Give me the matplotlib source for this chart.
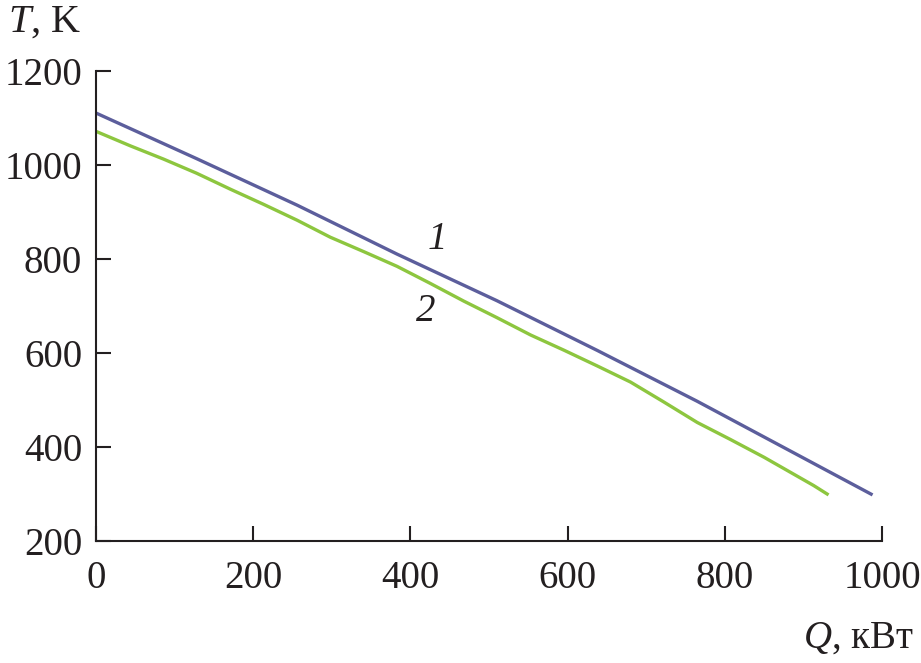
import matplotlib
matplotlib.use("Agg")
import matplotlib.pyplot as plt

plt.rcParams['font.family'] = ['Liberation Serif', 'DejaVu Serif']
plt.rcParams['mathtext.fontset'] = 'custom'
plt.rcParams['mathtext.rm'] = 'Liberation Serif'
plt.rcParams['mathtext.it'] = 'Liberation Serif:italic'

# Curve 1
q1 = [0, 128, 256, 383, 510, 638, 765, 988]
t1 = [1110, 1013, 914, 810, 711, 605, 497, 298]

# Curve 2
q2 = [0, 44, 86, 128, 171, 213, 256, 298, 341, 383, 425, 468, 510, 553,
      595, 638, 680, 722, 765, 807, 850, 892, 913, 932]
t2 = [1071, 1040, 1012, 982, 948, 916, 882, 846, 815, 784, 748, 710, 675, 638,
      606, 572, 538, 496, 452, 416, 378, 338, 318, 298]

xticks = [0, 200, 400, 600, 800, 1000]
yticks = [200, 400, 600, 800, 1000, 1200]

ink = '#231f20'
fig = plt.figure(figsize=(9.21, 6.63), dpi=100)
ax = fig.add_axes([96/921, 1-541/663, (882-96)/921, (541-70.7)/663])

ax.plot(q1, t1, color='#5c5e9c', lw=2.4, solid_capstyle='butt')
ax.plot(q2, t2, color='#8dc63f', lw=2.4, solid_capstyle='butt')

ax.set_xlim(0, 1000)
ax.set_ylim(200, 1200)
ax.set_xticks(xticks)
ax.set_yticks(yticks)
ax.tick_params(direction='in', length=11, width=1.5, colors=ink,
               labelsize=28)
ax.tick_params(axis='y', pad=10)
ax.tick_params(axis='x', pad=14)
for s in ['top', 'right']:
    ax.spines[s].set_visible(False)
for s in ['left', 'bottom']:
    ax.spines[s].set_linewidth(1.5)
    ax.spines[s].set_color(ink)

ax.text(434, 842, '1', fontsize=28, style='italic', color=ink,
        ha='center', va='center')
ax.text(419, 687, '2', fontsize=28, style='italic', color=ink,
        ha='center', va='center')

fig.text(8/921, 1-22/663, '$T$, K', fontsize=29, color=ink,
         ha='left', va='center')
fig.text(914/921, 1-638/663, '$Q$, кВт', fontsize=28, color=ink,
         ha='right', va='center')

fig.savefig('out.png', dpi=100)
